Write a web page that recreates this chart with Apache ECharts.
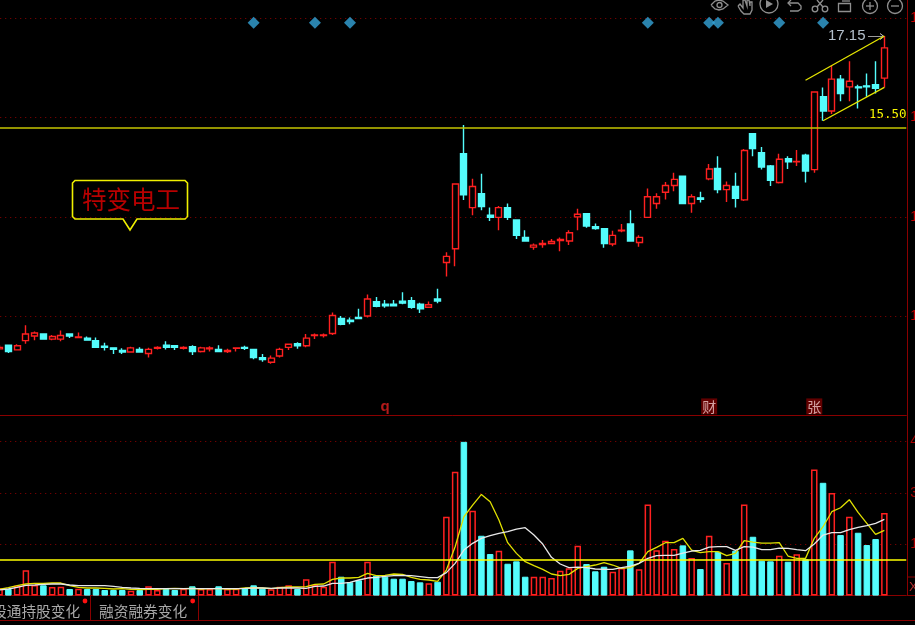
<!DOCTYPE html>
<html>
<head>
<meta charset="utf-8">
<title>特变电工</title>
<style>
  html, body { margin: 0; padding: 0; background: #000; overflow: hidden; }
  #main { width: 915px; height: 625px; }
</style>
<script src="https://cdn.jsdelivr.net/npm/echarts@6/dist/echarts.min.js"></script>
</head>
<body>
<div id="main"></div>
<script>
// daily prices
const opens = [
  11.06,11.13,11.04,11.22,11.31,11.35,11.25,11.25,11.35,11.28,
  11.27,11.22,11.11,11.08,11.03,11.00,11.05,10.97,11.07,11.13,
  11.12,11.07,11.10,11.01,11.06,11.05,11.01,11.07,11.09,11.05,
  10.89,10.80,10.92,11.09,11.16,11.12,11.32,11.32,11.36,11.65,
  11.62,11.67,11.70,11.98,11.93,11.93,11.99,12.00,11.93,11.87,
  12.03,12.74,13.01,14.86,13.81,14.08,13.66,13.62,13.81,13.57,
  13.23,13.04,13.09,13.11,13.17,13.16,13.63,13.69,13.44,13.40,
  13.10,13.36,13.49,13.13,13.62,13.89,14.11,14.24,14.42,13.89,
  14.00,14.37,14.57,14.16,14.22,13.96,15.25,14.88,14.62,14.30,
  14.76,14.70,14.83,14.55,15.97,15.69,16.31,16.16,16.16,16.18,16.20,16.33
];
const closes = [
  11.09,11.01,11.12,11.35,11.37,11.25,11.30,11.32,11.31,11.29,
  11.23,11.09,11.09,11.05,11.00,11.08,11.00,11.05,11.09,11.09,
  11.09,11.09,11.01,11.08,11.08,11.01,11.03,11.08,11.07,10.89,
  10.85,10.88,11.05,11.15,11.12,11.27,11.33,11.33,11.71,11.54,
  11.59,11.65,12.03,11.89,11.90,11.90,11.95,11.87,11.84,11.92,
  11.99,12.86,14.27,14.06,14.22,13.83,13.62,13.81,13.62,13.27,
  13.16,13.08,13.11,13.15,13.19,13.32,13.68,13.45,13.40,13.11,
  13.27,13.37,13.16,13.23,14.02,14.02,14.24,14.36,13.89,14.02,
  13.97,14.56,14.16,14.24,13.99,14.92,14.96,14.60,14.34,14.75,
  14.70,14.71,14.52,16.06,15.69,16.31,16.03,16.27,16.14,16.16,16.13,16.92
];
const highs = [
  11.13,11.13,11.15,11.52,11.40,11.35,11.33,11.42,11.35,11.38,
  11.30,11.28,11.18,11.08,11.07,11.10,11.09,11.08,11.11,11.21,
  11.12,11.11,11.13,11.10,11.11,11.13,11.06,11.09,11.12,11.05,
  10.96,10.93,11.08,11.15,11.19,11.35,11.36,11.36,11.77,11.70,
  11.67,11.84,12.12,12.07,12.01,12.01,12.16,12.07,11.96,11.98,
  12.23,12.94,14.27,15.42,14.37,14.47,13.81,13.84,13.89,13.57,
  13.37,13.11,13.18,13.20,13.23,13.37,13.79,13.69,13.50,13.40,
  13.36,13.49,13.76,13.27,14.18,14.09,14.31,14.49,14.42,14.07,
  14.12,14.66,14.81,14.32,14.49,14.95,15.25,14.99,14.64,14.86,
  14.81,14.93,14.86,16.06,16.15,16.57,16.39,16.66,16.20,16.42,16.66,17.15
];
const lows = [
  11.05,10.98,11.04,11.16,11.23,11.25,11.23,11.21,11.27,11.27,
  11.22,11.09,11.03,10.96,10.96,10.99,10.99,10.89,11.05,11.05,
  11.04,11.05,10.94,10.99,11.01,11.01,10.98,11.01,11.04,10.86,
  10.81,10.77,10.89,11.04,11.06,11.09,11.25,11.28,11.33,11.52,
  11.54,11.64,11.67,11.87,11.86,11.90,11.93,11.84,11.76,11.86,
  11.95,12.47,12.67,13.96,13.66,13.76,13.55,13.37,13.57,13.20,
  13.16,12.99,13.03,13.10,12.96,13.08,13.37,13.42,13.38,13.03,
  13.06,13.33,13.16,13.05,13.61,13.79,13.97,14.13,13.89,13.71,
  13.91,14.34,14.09,13.92,13.81,13.94,14.81,14.55,14.23,14.28,
  14.56,14.62,14.30,14.49,15.50,15.63,15.88,15.88,15.74,15.97,16.03,16.15
];
const volumes = [
  2130,1930,2890,7390,3100,3010,2510,2600,1930,2010,
  1930,1930,1640,1640,1640,1430,1640,2720,1640,1930,
  1640,2010,2720,1930,1930,2720,1930,2010,2130,3010,
  2010,1840,2600,3010,1930,4760,3100,2600,9900,5520,
  3880,4470,9900,5810,5520,4930,4930,4260,3880,3590,
  4060,23040,36180,44940,24790,17490,12150,13110,9310,10020,
  5520,5520,5520,5140,7270,7970,14570,9230,7100,8440,
  6980,8060,13220,7680,26660,13220,16030,13610,14680,10980,
  7770,17490,12820,9520,13110,26660,17200,10190,10020,11650,
  9900,12060,10600,36880,32970,29960,17700,23040,18370,14780,16530,24120
];
const volYellow = [
  1830,2320,2900,3390,3580,3580,3680,3680,2900,2410,
  2220,2220,2120,1930,2030,1830,1730,1830,1830,2030,
  2120,2030,2120,1930,2030,2030,1930,1930,2220,2320,
  2220,2030,2320,2510,2510,2610,3290,3390,4750,5140,
  5140,5340,6500,5820,5920,6310,6210,5340,4750,4560,
  4170,7470,14290,23050,26460,29580,27440,22080,15460,12350,
  9910,8740,7670,6310,5820,6210,7960,8450,8940,9620,
  8940,7960,8160,9420,12830,14090,15460,15460,16730,13320,
  12540,12830,12830,11660,12340,16050,15660,15360,15360,15460,
  11570,10880,10880,16730,20130,24520,25680,28020,24320,21110,17890,19060
];
const volWhite = [
  1640,1930,2410,3000,3100,3290,3390,3390,3100,2900,
  2900,2900,2900,2710,2410,2220,2120,2030,2030,2030,
  2030,2030,2030,2030,2030,2030,2030,2030,2120,2220,
  2220,2120,2220,2220,2220,2120,2700,2800,3580,3580,
  3870,4560,5140,5340,5630,5820,5920,5820,5530,5240,
  5240,6700,9420,13320,15270,16730,17500,18190,18670,19450,
  19840,17700,15070,11180,9230,8160,8350,8160,7770,7670,
  7670,8160,8640,9420,10880,11660,11760,11760,12440,13030,
  13220,14190,14290,14290,13220,14290,14190,13410,13410,13900,
  13800,13410,13120,15070,17700,18380,18380,19260,19940,20430,21110,22270
];
const priceTicks = [17.50, 15.57, 13.63, 11.70];
const priceLine = 15.36;
const volumeLine = 10600;
const diamondDays = [29, 36, 40, 74, 81, 82, 89, 94];
const diamondPrice = 17.41;
const badgeDays = [44, 81, 93];
const badgeTexts = ["q", "财", "张"];
const badgePrice = 9.94;
const categories = Array.from({ length: 104 }, (_, i) => i); // two spare days on the right

const UP = "#ff2020";
const DOWN = "#54fcfc";
const DARK_RED = "#8a0000";
const DOTS = { color: "#900000", type: [1, 4], width: 1 };

let candles = opens.map((o, i) => [o, closes[i], lows[i], highs[i]]);
let volBars = volumes.map((v, i) => ({
  value: v,
  itemStyle: closes[i] >= opens[i]
    ? { color: "#000", borderColor: UP, borderWidth: 1.5 }
    : { color: DOWN, borderColor: DOWN, borderWidth: 1 },
}));

// toolbar icons and other bits of the trading screen that are not data
const iconStyle = { stroke: "#8f8f8f", fill: "none", lineWidth: 1.3 };
function circle(cx, cy, r) { return { type: "circle", shape: { cx, cy, r }, style: iconStyle, silent: true }; }
function seg(x1, y1, x2, y2, stroke, lineWidth) {
  return { type: "line", shape: { x1, y1, x2, y2 }, style: { stroke: stroke || "#8f8f8f", lineWidth: lineWidth || 1.3 }, silent: true };
}
function poly(points, style) { return { type: "polyline", shape: { points }, style: style || iconStyle, silent: true }; }

let graphics = [
  // eye
  poly([[711,5],[715,1],[719,0],[723,1],[728,5],[723,9],[719,10],[715,9],[711,5]]),
  circle(719.5, 5, 2.5),
  // hand
  poly([[738,6],[741,11],[744,14],[750,14],[752,10],[752,2],[750,2],[750,6],[749,0],[747,0],[747,6],[745,0],[743,0],[743,8],[740,4],[738,6]]),
  // play
  circle(769, 4, 9),
  { type: "polygon", shape: { points: [[766,0],[766,8],[773,4]] }, style: { fill: "#8f8f8f" }, silent: true },
  // undo
  poly([[791,0],[788,3],[791,6]]),
  poly([[788,3],[798,3],[801,6],[801,9],[798,11],[790,11]]),
  // scissors
  circle(815, 9, 2.8), circle(825, 9, 2.8),
  seg(817, 7, 823, 0), seg(823, 7, 817, 0),
  // crop
  { type: "rect", shape: { x: 838.5, y: 3.5, width: 12, height: 8 }, style: iconStyle, silent: true },
  seg(842, 1, 850, 1),
  // zoom in / out
  circle(870, 6, 7.5), seg(866, 6, 874, 6), seg(870, 2, 870, 10),
  circle(895, 6, 7.5), seg(891, 6, 899, 6),

  // name callout
  { type: "polygon",
    shape: { points: [[75,180.5],[185,180.5],[187.5,183],[187.5,216.5],[185,219],[137,219],[130,230],[123,219],[75,219],[72.5,216.5],[72.5,183]] },
    style: { fill: "#000", stroke: "#f0f000", lineWidth: 1.6 }, silent: true },
  { type: "text", x: 131, y: 200,
    style: { text: "特变电工", fill: "#b80000", font: '24.5px "Noto Sans CJK SC"', textAlign: "center", textVerticalAlign: "middle" }, silent: true },

  // price notes
  { type: "text", x: 828, y: 36,
    style: { text: "17.15", fill: "#b4c0cc", font: '15px "Liberation Sans"', textVerticalAlign: "middle" }, silent: true },
  seg(868, 36.5, 884, 36.5, "#9a9a9a", 1),
  poly([[880,33.5],[884,36.5],[880,39.5]], { stroke: "#c8c8c8", fill: "none", lineWidth: 1 }),
  { type: "text", x: 869, y: 115,
    style: { text: "15.50", fill: "#f5f500", font: '12.5px "DejaVu Sans Mono"', textVerticalAlign: "middle" }, silent: true },

  // unit box in the corner
  { type: "rect", shape: { x: 907.5, y: 577, width: 10, height: 18.5 }, style: { stroke: DARK_RED, fill: "none", lineWidth: 1 }, silent: true },
  { type: "text", x: 909, y: 587, style: { text: "X", fill: "#b03030", font: '13px "Liberation Sans"', textVerticalAlign: "middle" }, silent: true },

  // tabs along the bottom
  seg(0, 620.5, 915, 620.5, DARK_RED, 1),
  seg(90.5, 596, 90.5, 620, DARK_RED, 1),
  seg(198.5, 596, 198.5, 620, DARK_RED, 1),
  { type: "text", x: -8, y: 611,
    style: { text: "股通持股变化", fill: "#a8a8a8", font: '14.7px "Noto Sans CJK SC"', textVerticalAlign: "middle" }, silent: true },
  { type: "text", x: 99, y: 611,
    style: { text: "融资融券变化", fill: "#a8a8a8", font: '14.7px "Noto Sans CJK SC"', textVerticalAlign: "middle" }, silent: true },
  { type: "circle", shape: { cx: 85, cy: 601, r: 2.4 }, style: { fill: "#ff1010" }, silent: true },
  { type: "circle", shape: { cx: 192.7, cy: 601, r: 2.4 }, style: { fill: "#ff1010" }, silent: true },
];

let options = {
  backgroundColor: "#000",
  animation: false,
  graphic: graphics,
  grid: [
    { left: -4.78, right: 8.74, top: 0, height: 415.3, outerBoundsMode: "none" },
    { left: -4.78, right: 8.74, top: 415.5, height: 180.1, outerBoundsMode: "none" },
  ],
  xAxis: [
    { type: "category", gridIndex: 0, data: categories, axisTick: { show: false }, axisLabel: { show: false },
      axisLine: { lineStyle: { color: DARK_RED } }, splitLine: { show: false } },
    { type: "category", gridIndex: 1, data: categories, axisTick: { show: false }, axisLabel: { show: false },
      axisLine: { lineStyle: { color: DARK_RED } }, splitLine: { show: false } },
  ],
  yAxis: [
    { type: "value", gridIndex: 0, position: "right", offset: 1, min: 9.767, max: 17.851, scale: true,
      axisLine: { show: true, lineStyle: { color: DARK_RED } },
      axisTick: { show: false, customValues: priceTicks },
      splitLine: { show: true, lineStyle: DOTS },
      axisLabel: { color: "#c00000", fontSize: 14, margin: 3, padding: [0, 0, 5, 0], customValues: priceTicks,
        fontFamily: "Liberation Sans", formatter: (v) => v.toFixed(2) } },
    { type: "value", gridIndex: 1, position: "right", offset: 1, min: 0, max: 52640, interval: 15000,
      axisLine: { show: true, lineStyle: { color: DARK_RED } },
      axisTick: { show: false },
      splitLine: { show: true, lineStyle: DOTS },
      axisLabel: { color: "#a80000", fontSize: 14, margin: 3, fontFamily: "Liberation Sans", showMinLabel: false, showMaxLabel: false } },
  ],
  series: [
    {
      name: "K",
      type: "candlestick",
      xAxisIndex: 0,
      yAxisIndex: 0,
      barWidth: 6.5,
      data: candles,
      itemStyle: { color: "#000", color0: DOWN, borderColor: UP, borderColor0: DOWN, borderWidth: 1.4 },
      markLine: {
        silent: true,
        symbol: "none",
        label: { show: false },
        animation: false,
        data: [
          { yAxis: priceLine, lineStyle: { color: "#c4c400", width: 1.5, type: "solid" } },
          [{ coord: [94, lows[94]], lineStyle: { color: "#e6e600", width: 1.3, type: "solid" } }, { coord: [101, lows[101]] }],
          [{ coord: [92, 16.29], lineStyle: { color: "#e6e600", width: 1.3, type: "solid" } }, { coord: [101, highs[101]] }],
        ],
      },
    },
    {
      name: "flags",
      type: "scatter",
      xAxisIndex: 0,
      yAxisIndex: 0,
      symbol: "diamond",
      symbolSize: 12,
      itemStyle: { color: "#35a4d8" },
      data: diamondDays.map((d) => [d, diamondPrice]),
    },
    {
      name: "badges",
      type: "scatter",
      xAxisIndex: 0,
      yAxisIndex: 0,
      symbolSize: 0,
      data: badgeDays.map((d, i) => ({
        value: [d, badgePrice],
        label: i === 0
          ? { show: true, position: "inside", formatter: badgeTexts[i], color: "#e02020", fontWeight: "bold", fontSize: 15, fontFamily: "Liberation Sans" }
          : { show: true, position: "inside", formatter: badgeTexts[i], color: "#f0c8c8", backgroundColor: "#7a0000", fontSize: 14,
              fontFamily: "Noto Sans CJK SC", padding: [1, 1, 1, 1] },
      })),
    },
    {
      name: "volume",
      type: "bar",
      xAxisIndex: 1,
      yAxisIndex: 1,
      barWidth: 6.5,
      data: volBars,
      markLine: {
        silent: true,
        symbol: "none",
        label: { show: false },
        animation: false,
        data: [{ yAxis: volumeLine, lineStyle: { color: "#ffff00", width: 1.5, type: "solid" } }],
      },
    },
    {
      name: "vol ma short",
      type: "line",
      xAxisIndex: 1,
      yAxisIndex: 1,
      showSymbol: false,
      data: volYellow,
      lineStyle: { color: "#e0e000", width: 1.3 },
    },
    {
      name: "vol ma long",
      type: "line",
      xAxisIndex: 1,
      yAxisIndex: 1,
      showSymbol: false,
      data: volWhite,
      lineStyle: { color: "#e8e8e8", width: 1.3 },
    },
  ],
};

let myChart = echarts.init(document.getElementById("main"));
myChart.setOption(options);
</script>
</body>
</html>
